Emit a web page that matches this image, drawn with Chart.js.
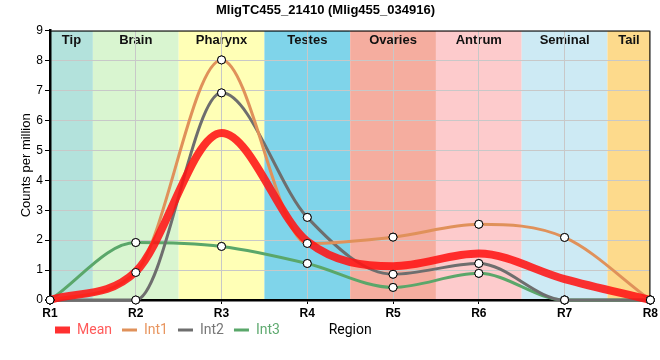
<!DOCTYPE html>
<html><head><meta charset="utf-8">
<script src="https://cdn.jsdelivr.net/npm/chart.js@4"></script>
<style>html,body{margin:0;padding:0;background:#fff}#w{width:660px;height:360px}</style>
</head><body><div id="w"><canvas id="c" width="660" height="360"></canvas></div>
<script>
const categories = ['R1','R2','R3','R4','R5','R6','R7','R8'];
const meanValues = [0, 0.95, 5.58, 1.96, 1.13, 1.55, 0.7, 0];
const int1Values = [0, 0.92, 8.02, 1.89, 2.1, 2.53, 2.09, 0];
const int2Values = [0, 0, 6.92, 2.76, 0.86, 1.22, 0, 0];
const int3Values = [0, 1.92, 1.79, 1.22, 0.42, 0.89, 0, 0];
const regionNames = ['Tip','Brain','Pharynx','Testes','Ovaries','Antrum','Seminal','Tail'];
const regionColors = ['#b3e2dc','#d9f5d0','#ffffb6','#7fd4ea','#f5ad9f','#fdcbcc','#cdeaf4','#fdda8c'];
const seriesNames = ['Mean','Int1','Int2','Int3'];
const lineColors = ['rgba(255,20,20,0.88)','#e0915a','#6e6e6e','#5aa76a'];
const legendTextColors = ['#ff5a5a','#e8955f','#777777','#5faa70'];
const titleText = 'MligTC455_21410 (Mlig455_034916)';

const bandsPlugin = {
  id: 'bands',
  afterLayout(chart) {
    const lg = chart.legend;
    if (lg) { lg.top -= 9; lg.bottom -= 9; lg.left -= 5; lg.right -= 5; }
  },
  beforeDraw(chart) {
    const {ctx, chartArea: a, scales: {x}} = chart;
    ctx.save();
    const last = categories.length - 1;
    regionNames.forEach((name, i) => {
      const x0 = x.getPixelForValue(Math.max(0, i - 0.5));
      const x1 = x.getPixelForValue(Math.min(last, i + 0.5));
      ctx.fillStyle = regionColors[i];
      ctx.fillRect(x0, a.top, x1 - x0, a.bottom - a.top);
      ctx.fillStyle = '#111';
      ctx.font = 'bold 13px "Liberation Sans", Arial, sans-serif';
      ctx.textAlign = 'center';
      ctx.textBaseline = 'middle';
      ctx.fillText(name, (x0 + x1) / 2, a.top + 10);
    });
    ctx.restore();
  },
  beforeDatasetsDraw(chart) {
    const {ctx, chartArea: a} = chart;
    ctx.save();
    ctx.strokeStyle = '#000';
    ctx.lineWidth = 1;
    ctx.beginPath();
    ctx.moveTo(a.left, a.top + 0.5);
    ctx.lineTo(a.right - 0.5, a.top + 0.5);
    ctx.lineTo(a.right - 0.5, a.bottom);
    ctx.stroke();
    ctx.restore();
  },
  afterDatasetsDraw(chart) {
    const {ctx} = chart;
    for (let i = 1; i < chart.data.datasets.length; i++) {
      const meta = chart.getDatasetMeta(i);
      meta.data.forEach(p => p.draw(ctx, undefined));
    }
  },
  afterDraw(chart) {
    const {ctx, chartArea: a, legend} = chart;
    const hb = legend.legendHitBoxes[0];
    const y = hb ? hb.top + hb.height / 2 : 330;
    ctx.save();
    ctx.fillStyle = '#000';
    ctx.font = '14px Roboto, "Liberation Sans", sans-serif';
    ctx.textAlign = 'center';
    ctx.textBaseline = 'middle';
    ctx.fillText('Region', (a.left + a.right) / 2, y);
    ctx.restore();
  }
};

const valueSets = [meanValues, int1Values, int2Values, int3Values];
const datasets = valueSets.map((vals, i) => ({
  label: seriesNames[i],
  data: vals,
  borderColor: lineColors[i],
  backgroundColor: lineColors[i],
  borderWidth: i === 0 ? 8 : 3,
  cubicInterpolationMode: 'monotone',
  pointRadius: i === 0 ? 0 : 4,
  pointBackgroundColor: '#fff',
  pointBorderColor: '#000',
  pointBorderWidth: 1,
  fill: false,
  clip: false
}));

new Chart(document.getElementById('c'), {
  type: 'line',
  data: {labels: categories, datasets},
  options: {
    responsive: false,
    animation: false,
    layout: {padding: {left: 0, right: 9, top: 0, bottom: 4}},
    plugins: {
      title: {
        display: true, text: titleText, color: '#000',
        font: {family: '"Liberation Sans", Arial, sans-serif', size: 13, weight: 'bold'},
        padding: {top: 3, bottom: 12}
      },
      legend: {
        position: 'bottom', align: 'start', fullSize: false,
        labels: {
          usePointStyle: true, pointStyleWidth: 15, boxHeight: 14, padding: 10,
          font: {family: 'Roboto, "Liberation Sans", sans-serif', size: 14},
          generateLabels: chart => chart.data.datasets.map((ds, i) => ({
            text: ds.label, fillStyle: lineColors[i], strokeStyle: i === 0 ? '#ff3030' : lineColors[i],
            lineWidth: i === 0 ? 7 : 3, pointStyle: 'line', lineCap: 'butt',
            fontColor: legendTextColors[i], hidden: false, datasetIndex: i
          }))
        }
      },
      tooltip: {enabled: false}
    },
    scales: {
      x: {
        afterFit: s => { s.height = 22; },
        grid: {color: '#c8c8c8', lineWidth: 1, tickColor: '#000', tickLength: 4},
        border: {color: '#000', width: 2.5},
        ticks: {color: '#000', padding: 2, font: {family: '"Liberation Sans", Arial, sans-serif', size: 12, weight: 'bold'}}
      },
      y: {
        min: 0, max: 9,
        afterFit: s => { s.width = 50; },
        grid: {color: '#c8c8c8', lineWidth: 1, tickColor: '#000', tickLength: 5},
        border: {color: '#000', width: 2.5},
        ticks: {stepSize: 1, color: '#000', padding: 2, font: {family: '"Liberation Sans", Arial, sans-serif', size: 12}},
        title: {display: true, text: 'Counts per million', color: '#000',
          font: {family: '"Liberation Sans", Arial, sans-serif', size: 13}, padding: {top: 19, bottom: 0}}
      }
    }
  },
  plugins: [bandsPlugin]
});
</script></body></html>
